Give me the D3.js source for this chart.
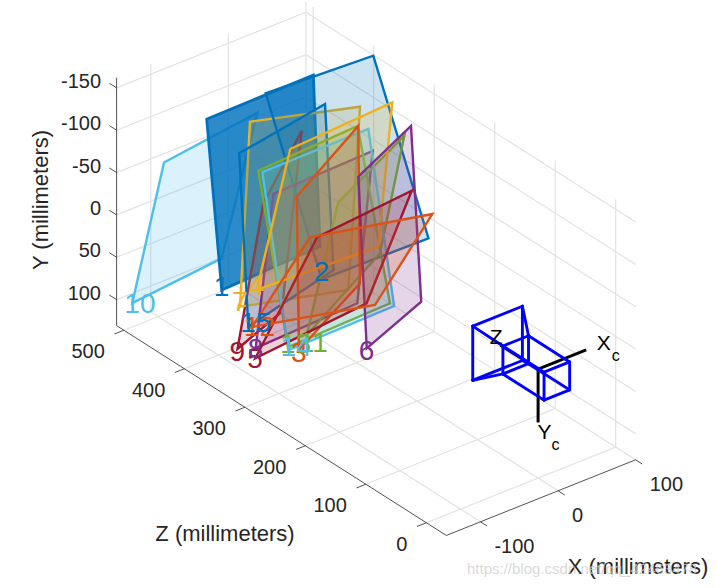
<!DOCTYPE html>
<html><head><meta charset="utf-8">
<style>html,body{margin:0;padding:0;background:#fff}svg{display:block}text{font-family:"Liberation Sans",Arial,sans-serif}</style>
<script src="https://cdnjs.cloudflare.com/ajax/libs/d3/7.8.5/d3.min.js"></script>
</head><body><script>
const xTicks=[-100,0,100], yTicks=[-150,-100,-50,0,50,100], zTicks=[0,100,200,300,400,500];
const xLimits=[-144,100], yLimits=[-162,130.7], zLimits=[-33,512];
const patternLabels=["1","2","3","4","5","6","7","8","9","10","11","12","13","14","15"];
const patternColorIndex=[0,0,1,2,6,3,2,3,6,5,4,1,4,5,0];
const drawOrder=[10,1,9,7,15,2,8,13,11,14,4,3,6,5,12];
const cornerX=[[-80.3,-99.6,37.8,46.4],[-6,-.2,99.5,92.6],[-74.3,-77.2,2.2,4.4],[-89.8,-46.5,46,28],[-130.5,-50.9,32.1,-26.1],[-64.9,-36.8,70.1,44.3],[-72.3,-59.4,43.4,28.3],[-130,-107.3,20.7,.9],[-114.5,-81.2,-31.7,-57.5],[-133.1,-92.3,28,-17.9],[-103.3,-62.6,22.5,-8.8],[-95.8,-60,58.6,-15.3],[-88.4,-87.7,1.4,43],[-87.8,-82.5,15.1,48.3],[-61.6,-73.3,-1.7,9.2]];
const cornerY=[[70.1,-138.5,-140.5,65.4],[52.9,-119.1,-149.8,17.8],[88.7,-93.4,-147.8,38.7],[34.8,-115.8,-159.7,4.1],[77.8,-35.9,-83.2,28.4],[44.6,-125,-123,52.2],[83.7,-130,-132.8,78.1],[65.9,-107.7,-111.6,61],[95.5,-64.4,-131.9,72.3],[102.5,-48.4,-63.2,92],[37.6,-104.2,-151.7,-24.3],[76.3,-39.2,-46,34.4],[79.9,-105.3,-148.2,76.4],[83.7,-101.5,-139.6,81.6],[111.2,-97.8,-152.5,47.5]];
const cornerZ=[[420,420,420,420],[350,450,400,300],[300,300,300,300],[350,350,300,300],[300,300,250,250],[200,250,300,250],[400,400,350,350],[300,300,300,300],[350,350,350,350],[500,500,500,500],[250,250,250,250],[350,300,250,250],[300,350,300,300],[300,350,300,300],[400,400,350,350]];
// label height relative to the pattern's first corner, in mm along Y
const labelLiftY=[-5,-9,2,-6,0,2,-7,0,3,0,8,-1,-4,-4,-5];
const palette=["#0072BD","#D95319","#EDB120","#7E2F8E","#77AC30","#4DBEEE","#A2142F"];
// camera wireframe (mm)
const cameraY0=2;
const boxRearZ=-31, boxFrontZ=37, lensZ=67, boxHalf=16.5, lensHalf=32;
const cameraAxisLength={x:62,y:63,z:62};

const W=719,H=588;
const svg=d3.select("body").append("svg").attr("width",W).attr("height",H);
// orthographic view: each data axis contributes linearly to screen x and y
const xToSx=d3.scaleLinear().domain([0,100]).range([0,77.6]);
const xToSy=d3.scaleLinear().domain([0,100]).range([0,-31]);
const zToSx=d3.scaleLinear().domain([0,100]).range([0,-60.5]);
const zToSy=d3.scaleLinear().domain([0,100]).range([0,-38.5]);
const yToSy=d3.scaleLinear().domain([0,100]).range([0,84.7]);
const ox=538.1,oy=367.4;
const P=(x,y,z)=>[ox+xToSx(x)+zToSx(z), oy+xToSy(x)+zToSy(z)+yToSy(y)];
const line3=(g,a,b)=>{const p=P(...a),q=P(...b);return g.append("line").attr("x1",p[0]).attr("y1",p[1]).attr("x2",q[0]).attr("y2",q[1]);};

const [x0,x1]=xLimits,[y0,y1]=yLimits,[z0,z1]=zLimits;
// grid
const grid=svg.append("g").attr("stroke","#e2e2e2").attr("stroke-width",1.2).attr("fill","none");
xTicks.forEach(x=>{line3(grid,[x,y1,z0],[x,y1,z1]);line3(grid,[x,y0,z1],[x,y1,z1]);});
zTicks.forEach(z=>{line3(grid,[x0,y1,z],[x1,y1,z]);line3(grid,[x1,y0,z],[x1,y1,z]);});
yTicks.forEach(y=>{line3(grid,[x0,y,z1],[x1,y,z1]);line3(grid,[x1,y,z1],[x1,y,z0]);});

// axes
const ax=svg.append("g").attr("stroke","#262626").attr("stroke-width",.8);
line3(ax,[x0,y0,z1],[x0,y1,z1]);
line3(ax,[x0,y1,z1],[x0,y1,z0]);
line3(ax,[x0,y1,z0],[x1,y1,z0]);
const tickText=svg.append("g").attr("fill","#262626").attr("font-size",20);
yTicks.forEach(y=>{line3(ax,[x0,y,z1],[x0,y,z1+12]);const p=P(x0,y,z1);
  tickText.append("text").attr("x",101).attr("y",p[1]-7).attr("dy",".35em").attr("text-anchor","end").text(y);});
zTicks.forEach(z=>{line3(ax,[x0,y1,z],[x0-12,y1,z]);const p=P(x0,y1,z);
  tickText.append("text").attr("x",p[0]-19).attr("y",p[1]+21).attr("dy",".35em").attr("text-anchor","end").text(z);});
xTicks.forEach(x=>{line3(ax,[x,y1,z0],[x,y1,z0-11]);const p=P(x,y1,z0);
  tickText.append("text").attr("x",p[0]+14).attr("y",p[1]+24.5).attr("dy",".35em").attr("text-anchor","start").text(x);});

const axisLabels=svg.append("g").attr("fill","#262626").attr("font-size",22).attr("text-anchor","middle");
axisLabels.append("text").attr("x",638).attr("y",566.5).attr("dy",".35em").text("X (millimeters)");
axisLabels.append("text").attr("x",225).attr("y",533.5).attr("dy",".35em").text("Z (millimeters)");
axisLabels.append("text").attr("transform","translate(40,200) rotate(-90)").attr("dy",".35em").text("Y (millimeters)");

// patterns
const pat=svg.append("g");
drawOrder.forEach(n=>{
  const i=n-1,c=palette[patternColorIndex[i]];
  const pts=cornerX[i].map((x,k)=>P(x,cornerY[i][k],cornerZ[i][k]));
  pat.append("path").attr("d",d3.line()(pts)+"Z").attr("fill",c).attr("fill-opacity",n===1?0.82:0.2)
    .attr("stroke",c).attr("stroke-width",n===1?2.8:2.4).attr("stroke-linejoin","miter");
});
// pattern labels: anchored on the first corner
const lab=svg.append("g").attr("font-size",28);
patternLabels.forEach((t,i)=>{
  const p=P(cornerX[i][0],cornerY[i][0]+labelLiftY[i],cornerZ[i][0]);
  lab.append("text").attr("x",p[0]-8).attr("y",p[1]).attr("dy",".35em").attr("fill",palette[patternColorIndex[i]]).text(t);
});

// camera
const cam=svg.append("g");
const A=cam.append("g").attr("stroke","#000").attr("stroke-width",3).attr("stroke-linecap","butt");
line3(A,[0,cameraY0,0],[cameraAxisLength.x,cameraY0,0]);
line3(A,[0,cameraY0,0],[0,cameraY0+cameraAxisLength.y,0]);
line3(A,[0,cameraY0,0],[0,cameraY0,cameraAxisLength.z]);
const wire=cam.append("g").attr("stroke","#0000ff").attr("stroke-width",2.9).attr("stroke-linejoin","round").attr("stroke-linecap","round");
const signs=[[-1,-1],[1,-1],[1,1],[-1,1]];
const corner=(h,z,s)=>[s[0]*h,cameraY0+s[1]*h,z];
signs.forEach((s,k)=>{
  const n=signs[(k+1)%4];
  line3(wire,corner(boxHalf,boxRearZ,s),corner(boxHalf,boxRearZ,n));
  line3(wire,corner(boxHalf,boxFrontZ,s),corner(boxHalf,boxFrontZ,n));
  line3(wire,corner(lensHalf,lensZ,s),corner(lensHalf,lensZ,n));
  line3(wire,corner(boxHalf,boxRearZ,s),corner(boxHalf,boxFrontZ,s));
  line3(wire,corner(boxHalf,boxFrontZ,s),corner(lensHalf,lensZ,s));
});
const camText=(x,y,t,fs)=>svg.append("text").attr("x",x).attr("y",y).attr("dy",".35em").attr("text-anchor","middle").attr("font-size",fs).attr("fill","#000").text(t);
{const px=P(cameraAxisLength.x,cameraY0,0);camText(px[0]+17.5,px[1]-7,"X",21);camText(px[0]+29.5,px[1]+5.5,"c",16);
 const py=P(0,cameraY0+cameraAxisLength.y,0);camText(py[0]+6.5,py[1]+9,"Y",21);camText(py[0]+17.5,py[1]+21.5,"c",16);
 const pz=P(0,cameraY0,cameraAxisLength.z);camText(pz[0]-4.5,pz[1]-9,"Z",21);}
// watermark
svg.append("text").attr("x",467).attr("y",574).attr("font-size",15).attr("fill","#cfcfcf").attr("fill-opacity",.8).text("https://blog.csdn.net/qq_42463478");
</script></body></html>
